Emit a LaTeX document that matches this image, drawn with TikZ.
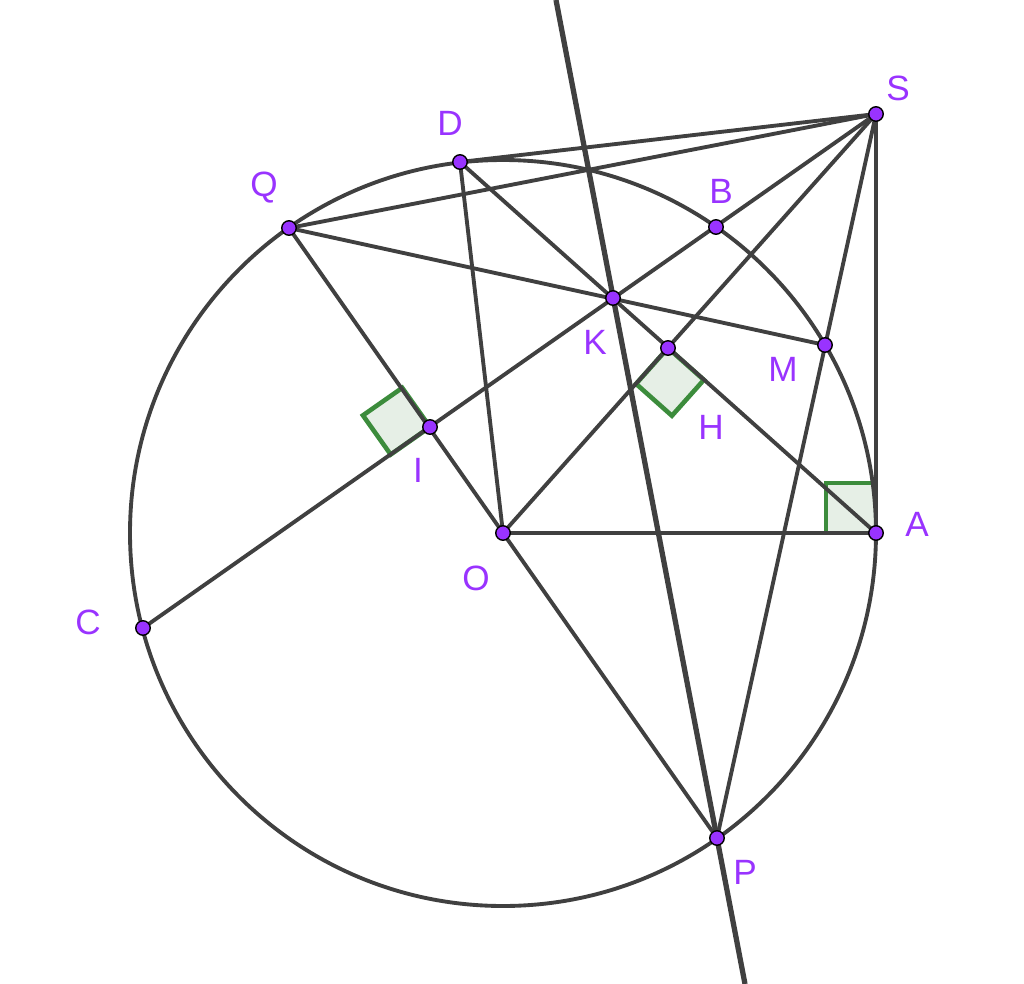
\documentclass[tikz,border=0pt]{standalone}
\usepackage{fontspec}
\setmainfont{Liberation Sans}
\usetikzlibrary{calc}
\definecolor{lin}{HTML}{404040}
\definecolor{pt}{HTML}{9933FF}
\definecolor{lab}{HTML}{9933FF}
\definecolor{rag}{HTML}{3C8C3C}
\definecolor{ragfill}{HTML}{E6EFE6}
\tikzset{
  seg/.style={draw=lin, line width=1.1pt, line cap=round},
  longline/.style={draw=lin, line width=1.5pt},
  ptdot/.style={circle, fill=pt, draw=black, line width=0.4pt, inner sep=0pt, minimum size=0.145cm},
  lbl/.style={text=lab, font=\fontsize{10pt}{12pt}\selectfont, inner sep=0pt},
  rightang/.style={draw=rag, fill=ragfill, line width=1.3pt, line join=miter}
}
\begin{document}
\begin{tikzpicture}[x=1cm,y=1cm]
\useasboundingbox (0,0) rectangle (10.24,-9.84);
% points
\coordinate (S) at (8.76,-1.14);
\coordinate (D) at (4.60,-1.62);
\coordinate (Q) at (2.89,-2.28);
\coordinate (B) at (7.16,-2.27);
\coordinate (K) at (6.13,-2.98);
\coordinate (M) at (8.25,-3.45);
\coordinate (H) at (6.68,-3.48);
\coordinate (I) at (4.30,-4.27);
\coordinate (O) at (5.03,-5.33);
\coordinate (A) at (8.76,-5.33);
\coordinate (C) at (1.43,-6.28);
\coordinate (P) at (7.17,-8.38);
\coordinate (Ltop) at (5.56,0);
\coordinate (Lbot) at (7.45,-9.84);
% right angle marks
\coordinate (I1) at ($(I)!0.48cm!(Q)$);
\coordinate (I2) at ($(I)!0.48cm!(C)$);
\draw[rightang] (I) -- (I1) -- ($(I1)+(I2)-(I)$) -- (I2) -- cycle;
\coordinate (H1) at ($(H)!0.48cm!(A)$);
\coordinate (H2) at ($(H)!0.48cm!(O)$);
\draw[rightang] (H) -- (H1) -- ($(H1)+(H2)-(H)$) -- (H2) -- cycle;
\coordinate (A1) at ($(A)!0.50cm!(O)$);
\coordinate (A2) at ($(A)!0.50cm!(S)$);
\draw[rightang] (A) -- (A1) -- ($(A1)+(A2)-(A)$) -- (A2) -- cycle;
% circle
\draw[seg] (O) circle (3.73);
% segments
\draw[seg] (S) -- (D);
\draw[seg] (S) -- (Q);
\draw[seg] (S) -- (C);
\draw[seg] (S) -- (O);
\draw[seg] (S) -- (P);
\draw[seg] (S) -- (A);
\draw[seg] (D) -- (A);
\draw[seg] (D) -- (O);
\draw[seg] (Q) -- (M);
\draw[seg] (Q) -- (P);
\draw[seg] (O) -- (A);
\draw[longline] (Ltop) -- (Lbot);
% dots
\foreach \p in {S,D,Q,B,K,M,H,I,O,A,C,P} \node[ptdot] (d\p) at (\p) {};
% labels
\node[lbl] (lS) at (8.98,-0.88) {S};
\node[lbl] (lD) at (4.50,-1.23) {D};
\node[lbl] (lQ) at (2.64,-1.88) {Q};
\node[lbl] (lB) at (7.21,-1.91) {B};
\node[lbl] (lK) at (5.95,-3.42) {K};
\node[lbl] (lM) at (7.83,-3.69) {M};
\node[lbl] (lH) at (7.11,-4.27) {H};
\node[lbl] (lI) at (4.18,-4.70) {I};
\node[lbl] (lO) at (4.76,-5.78) {O};
\node[lbl] (lA) at (9.17,-5.24) {A};
\node[lbl] (lC) at (0.88,-6.22) {C};
\node[lbl] (lP) at (7.45,-8.72) {P};
\end{tikzpicture}
\end{document}
